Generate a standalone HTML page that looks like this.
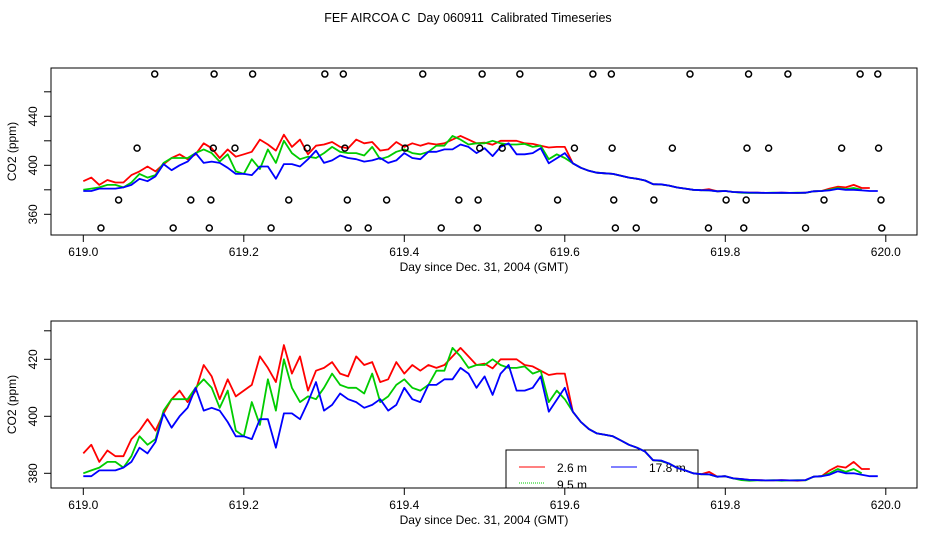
<!DOCTYPE html>
<html><head><meta charset="utf-8"><style>
html,body{margin:0;padding:0;background:#fff;}
svg{display:block;font-family:"Liberation Sans",sans-serif;}
</style></head><body>
<svg id="c" width="936" height="540" viewBox="0 0 936 540" xmlns="http://www.w3.org/2000/svg">
<text x="468" y="22" text-anchor="middle" font-size="12.5" xml:space="preserve" style="white-space:pre">FEF AIRCOA C  Day 060911  Calibrated Timeseries</text>
<defs><clipPath id="clipB"><rect x="51" y="321" width="866" height="167"/></clipPath></defs>
<g id="top"></g>
<g id="bot"></g>
</svg>
<script>
const days = [];
for (let i = 0; i <= 99; i++) days.push(+(619 + i * 0.01).toFixed(2));
const red = [387,390,384,388,386,386,392,395,399,395,401,406,409,405,409,418,414,406,413,407,409,411,421,417,412,425,415,421,409,416,417,419,415,414,421,418,419,412,413,419,415,418,416,418,417,418,421,424,421,418,
418.5,416.8,420,420,420,418,417.5,416,414.5,415,415,401.6,398,395.5,394,393.5,393,391.5,390,389,387.6,384.6,384.3,383.4,381.9,381,380,379.7,380.5,378.8,379,378.2,378,377.7,377.6,377.5,377.5,377.6,377.5,377.4,377.6,378.8,379,381,382.5,382,384,381.5,381.5,null];
const green = [380,381,382,384,384,382,386,393,390,392,402,406,406,406,410,413,410,403,409,395,393,405,397,413,402,420,410,405,407,406,410,415,411,410,410,408,415,405,407,411,413,410,409,411,416,416,424,421,417,418,
418,420,418,417,417,417.5,415,416,405,409,406,401.6,398,395.5,394,393.5,393,391.5,390,389,387.6,384.6,384.3,383.4,381.9,381,380,379.7,379.6,378.8,379,378.2,377.6,377.4,377.5,377.5,377.6,377.4,377.5,377.6,377.5,378.8,379,380,381.5,380.5,381.5,380,null,null];
const blue = [379,379,381,381,381,382,384,389,387,391,401,396,400,403,410,402,403,402,398,393,393,392,399,399,389,401,401,399,405,412,402,404,408,406,405,403,404,406,402,404,410,406,405,411,411,413,413,417,415,410,
414,407.5,415,418,409,409,410,414,401.6,405.8,410,401.6,398,395.5,394,393.5,393,391.5,390,389,387.6,384.6,384.5,383.4,381.9,381,380,379.7,379.6,378.8,379,378.2,378,377.7,377.6,377.5,377.5,377.6,377.5,377.5,377.6,378.8,379,379.5,380.7,380,380,379.5,379,379];
const circleDays = [
619.089,619.163,619.211,619.301,619.324,619.423,619.497,619.544,619.635,619.658,619.756,619.829,619.878,619.968,619.990,
619.067,619.162,619.189,619.279,619.326,619.401,619.494,619.522,619.612,619.659,619.734,619.827,619.854,619.945,619.991,
619.044,619.134,619.159,619.256,619.329,619.378,619.468,619.492,619.591,619.661,619.711,619.801,619.826,619.923,619.994,
619.022,619.112,619.157,619.234,619.330,619.355,619.446,619.491,619.567,619.663,619.689,619.779,619.823,619.900,619.995];
const circleLevels = [
474.5,474.5,474.5,474.5,474.5,474.5,474.5,474.5,474.5,474.5,474.5,474.5,474.5,474.5,474.5,
414,414,414,414,414,414,414,414,414,414,414,414,414,414,414,
371.7,371.7,371.7,371.7,371.7,371.7,371.7,371.7,371.7,371.7,371.7,371.7,371.7,371.7,371.7,
348.8,348.8,348.8,348.8,348.8,348.8,348.8,348.8,348.8,348.8,348.8,348.8,348.8,348.8,348.8];
const xTicks = [619.0,619.2,619.4,619.6,619.8,620.0];
const xTickLabels = ["619.0","619.2","619.4","619.6","619.8","620.0"];
const topYTicks = [360,380,400,420,440,460];
const topYLabels = ["360","","400","","440",""];
const botYTicks = [380,400,420,430];
const botYLabels = ["380","400","420",""];

const NS = "http://www.w3.org/2000/svg";
function mk(parent, tag, attrs, name, text) {
  const e = document.createElementNS(NS, tag);
  for (const k in attrs) e.setAttribute(k, attrs[k]);
  
  
  if (text !== undefined) e.textContent = text;
  parent.appendChild(e);
  return e;
}
const xs = d => 83.3 + (d - 619) * 802.5;
const colors = {red:"#ff0000", green:"#00cc00", blue:"#0000ff"};

// legend first (lines are drawn over it, as in the original)
const botG = document.getElementById('bot');
const lg = mk(botG, 'g', {'clip-path': 'url(#clipB)'}, 'legend');
mk(lg, 'rect', {x: 506, y: 450, width: 192, height: 50, fill: 'none', stroke: '#000'}, 'legend-box');
mk(lg, 'line', {x1: 519, x2: 545, y1: 467, y2: 467, stroke: '#ff0000'}, 'legend-swatch-2-6m');
mk(lg, 'text', {x: 557, y: 472, 'font-size': 12}, 'legend-label-2-6m', '2.6 m');
mk(lg, 'line', {x1: 611, x2: 637, y1: 467, y2: 467, stroke: '#0000ff'}, 'legend-swatch-17-8m');
mk(lg, 'text', {x: 649, y: 472, 'font-size': 12}, 'legend-label-17-8m', '17.8 m');
mk(lg, 'line', {x1: 519, x2: 545, y1: 483, y2: 483, stroke: '#00cc00', 'stroke-dasharray': '1,1'}, 'legend-swatch-9-5m');
mk(lg, 'text', {x: 557, y: 489, 'font-size': 12}, 'legend-label-9-5m', '9.5 m');

function panel(g, top, bottom, yFn, yTicks, yLabels, prefix, showCircles, clip) {
  const sg = mk(g, 'g', clip ? {'clip-path':'url(#clipB)'} : {}, prefix + '-series');
  [['red', red], ['green', green], ['blue', blue]].forEach(([c, arr]) => {
    let pts = [];
    arr.forEach((v, i) => { if (v !== null) pts.push(xs(days[i]).toFixed(1) + ',' + yFn(v).toFixed(1)); });
    mk(sg, 'polyline', {points: pts.join(' '), fill: 'none', stroke: colors[c], 'stroke-width': 1.8, 'stroke-linejoin': 'round'}, prefix + '-line-' + c);
  });
  if (showCircles) {
    circleDays.forEach((d, i) => {
      mk(g, 'circle', {cx: xs(d), cy: yFn(circleLevels[i]), r: 3, fill: 'none', stroke: '#000', 'stroke-width': 1.5}, 'valve-marker');
    });
  }
  mk(g, 'rect', {x: 51, y: top, width: 866, height: bottom - top, fill: 'none', stroke: '#000', 'stroke-width': 1}, prefix + '-plot-frame');
  xTicks.forEach((t, i) => {
    const x = xs(t);
    mk(g, 'line', {x1: x, x2: x, y1: bottom, y2: bottom + 7, stroke: '#000'}, prefix + '-x-tick');
    mk(g, 'text', {x: x, y: bottom + 21, 'text-anchor': 'middle', 'font-size': 12}, prefix + '-x-tick-label', xTickLabels[i]);
  });
  yTicks.forEach((t, i) => {
    const y = yFn(t);
    mk(g, 'line', {x1: 44, x2: 51, y1: y, y2: y, stroke: '#000'}, prefix + '-y-tick');
    if (yLabels[i]) mk(g, 'text', {x: 0, y: 0, transform: 'translate(37,' + y + ') rotate(-90)', 'text-anchor': 'middle', 'font-size': 12}, prefix + '-y-tick-label', yLabels[i]);
  });
  mk(g, 'text', {x: 484, y: bottom + 36, 'text-anchor': 'middle', 'font-size': 12}, prefix + '-x-axis-title', 'Day since Dec. 31, 2004 (GMT)');
  mk(g, 'text', {x: 0, y: 0, transform: 'translate(16,' + ((top + bottom) / 2) + ') rotate(-90)', 'text-anchor': 'middle', 'font-size': 12}, prefix + '-y-axis-title', 'CO2 (ppm)');
}
const topY = v => 165.3 - (v - 400) * 1.225;
const botY = v => 473.3 - (v - 380) * 2.85;
panel(document.getElementById('top'), 68, 235, topY, topYTicks, topYLabels, 'top', true, false);
panel(botG, 321, 488, botY, botYTicks, botYLabels, 'bottom', false, true);
</script>
</body></html>
